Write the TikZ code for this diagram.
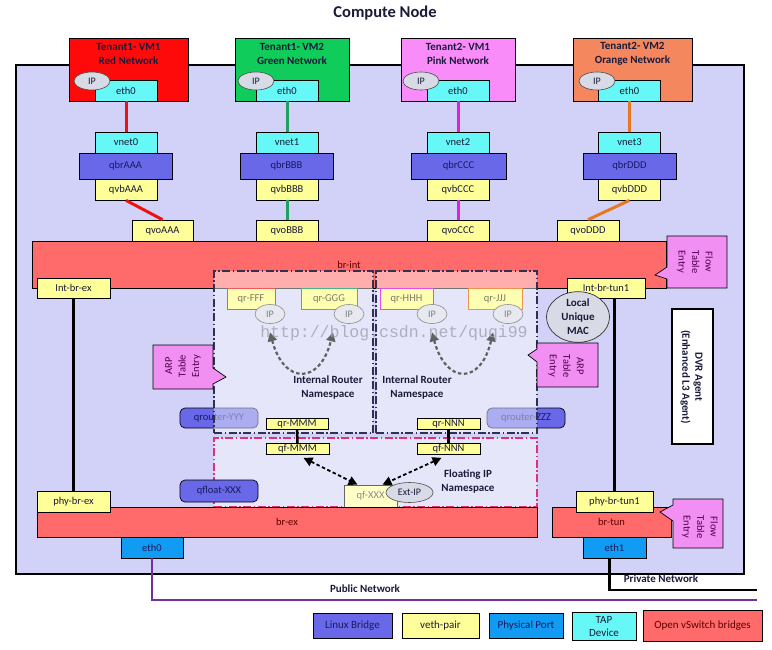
\documentclass[tikz,border=0pt]{standalone}
\usepackage{fontspec}
\setmainfont{Carlito}
\newfontfamily\wmfont{Liberation Mono}
\usetikzlibrary{shapes.geometric,arrows.meta}
\definecolor{lav}{HTML}{D2D2F8}
\definecolor{vmred}{HTML}{FF0A0A}
\definecolor{vmgreen}{HTML}{10CC5A}
\definecolor{vmpink}{HTML}{FA8CFA}
\definecolor{vmorange}{HTML}{F4875E}
\definecolor{tapc}{HTML}{66F7F7}
\definecolor{vethc}{HTML}{FFFF99}
\definecolor{lbc}{HTML}{6868E8}
\definecolor{ovsc}{HTML}{FF6B6B}
\definecolor{physc}{HTML}{119BF2}
\definecolor{callc}{HTML}{F28FF2}
\definecolor{ipc}{HTML}{D8DAE6}
\definecolor{nsb}{HTML}{303050}
\definecolor{fnsb}{HTML}{E0307A}
\definecolor{txt}{HTML}{1A1A3A}
\definecolor{lbtxt}{HTML}{1A1A60}
\definecolor{ovstxt}{HTML}{600000}
\definecolor{calltxt}{HTML}{500050}
\definecolor{lred}{HTML}{EE1111}
\definecolor{lgreen}{HTML}{20A060}
\definecolor{lmag}{HTML}{E020E0}
\definecolor{lorange}{HTML}{E87820}
\definecolor{pubc}{HTML}{7030A0}
\definecolor{fadetxt}{HTML}{7A7A6A}
\definecolor{wmc}{HTML}{A0A0B0}
\begin{document}
\begin{tikzpicture}[x=1pt,y=-1pt,
  base/.style={draw=black, line width=0.7pt, inner sep=0pt, font=\fontsize{10.5}{12}\selectfont, text=txt},
  tapbox/.style={base, fill=tapc, minimum width=62, minimum height=21},
  vethbox/.style={base, fill=vethc, minimum width=62, minimum height=21},
  smallveth/.style={base, fill=vethc, minimum width=62, minimum height=11},
  lbbox/.style={base, fill=lbc, text=lbtxt, minimum width=93, minimum height=26},
  ovsbox/.style={base, fill=ovsc, text=ovstxt},
  physbox/.style={base, fill=physc, text=lbtxt, minimum width=62, minimum height=21},
  ipell/.style={ellipse, draw=black!70, line width=0.6pt, fill=ipc, inner sep=0pt, font=\fontsize{10}{12}\selectfont, text=txt},
  nsip/.style={ellipse, draw=black!45, line width=0.6pt, fill=ipc!60, inner sep=0pt, font=\fontsize{10}{12}\selectfont, text=black!50, minimum width=30, minimum height=19},
  vmbox/.style={draw=black, line width=0.7pt, minimum height=63},
  vmtitle/.style={font=\bfseries\fontsize{11}{13.5}\selectfont, align=center, inner sep=0pt, text=txt},
  boldtxt/.style={font=\bfseries\fontsize{11}{14}\selectfont, align=center, inner sep=0pt, text=txt},
  vmline/.style={line width=3pt},
  qrbox/.style={base, line width=0.9pt, fill=vethc!75!white, text=fadetxt, minimum height=21},
  qrouter/.style={base, fill=lbc, text=lbtxt, rounded corners=5pt, minimum width=78, minimum height=20},
  ns/.style={draw=nsb, line width=1.2pt, dash pattern=on 8pt off 2.5pt on 1.5pt off 2.5pt, fill=white, fill opacity=0.45, inner sep=0pt},
  callout/.style={draw=black, line width=0.7pt, fill=callc},
  calltext/.style={font=\fontsize{10.5}{13.5}\selectfont, align=center, inner sep=0pt, text=calltxt},
  nsarrow/.style={{Triangle[length=9pt,width=9pt]}-{Triangle[length=9pt,width=9pt]}, line width=2.2pt, draw=black!62, dash pattern=on 3.5pt off 2.5pt},
  fparrow/.style={{Triangle[length=9pt,width=9pt]}-{Triangle[length=9pt,width=9pt]}, line width=1.8pt, draw=black, dash pattern=on 3.5pt off 2.5pt},
  legbox/.style={base, font=\fontsize{11}{13}\selectfont, align=center}
]
\useasboundingbox (0,0) rectangle (772,649);
\fill[white] (0,0) rectangle (772,649);

% title
\node[font=\bfseries\fontsize{16.5}{18}\selectfont, text=txt, inner sep=0pt] (title) at (385,13) {Compute Node};

% compute node box
\node[draw=black, line width=2.8pt, fill=lav, minimum width=728, minimum height=509, inner sep=0pt] (cn) at (380,319.5) {};

% VMs
\node[vmbox, fill=vmred, minimum width=119] (vm1) at (128.5,69.5) {};
\node[vmtitle] (vm1t) at (128.5,54) {Tenant1- VM1\\Red Network};
\node[tapbox] (eth01) at (126,90.5) {eth0};
\node[ipell, minimum width=36, minimum height=18] (ip1) at (92,81) {IP};

\node[vmbox, fill=vmgreen, minimum width=114] (vm2) at (292,69.5) {};
\node[vmtitle] (vm2t) at (292,54) {Tenant1- VM2\\Green Network};
\node[tapbox] (eth02) at (287,90.5) {eth0};
\node[ipell, minimum width=36, minimum height=18] (ip2) at (256,81) {IP};

\node[vmbox, fill=vmpink, minimum width=114] (vm3) at (458,69.5) {};
\node[vmtitle] (vm3t) at (458,54) {Tenant2- VM1\\Pink Network};
\node[tapbox] (eth03) at (458,90.5) {eth0};
\node[ipell, minimum width=36, minimum height=18] (ip3) at (421,81) {IP};

\node[vmbox, fill=vmorange, minimum width=119] (vm4) at (632.5,69.5) {};
\node[vmtitle] (vm4t) at (632.5,54) {Tenant2- VM2\\Orange Network};
\node[tapbox] (eth04) at (629.5,90.5) {eth0};
\node[ipell, minimum width=36, minimum height=18] (ip4) at (597,81) {IP};

% tap / bridges / veth
\node[tapbox] (vnet0) at (126,142.5) {vnet0};
\node[lbbox] (qbrA) at (125.5,166) {qbrAAA};
\node[vethbox] (qvbA) at (126,189.5) {qvbAAA};
\node[vethbox, minimum width=61] (qvoA) at (162.5,230.5) {qvoAAA};

\node[tapbox] (vnet1) at (287,142.5) {vnet1};
\node[lbbox] (qbrB) at (286.5,166) {qbrBBB};
\node[vethbox] (qvbB) at (287,189.5) {qvbBBB};
\node[vethbox] (qvoB) at (287,230.5) {qvoBBB};

\node[tapbox] (vnet2) at (458,142.5) {vnet2};
\node[lbbox, minimum width=95] (qbrC) at (458.5,166) {qbrCCC};
\node[vethbox] (qvbC) at (458,189.5) {qvbCCC};
\node[vethbox] (qvoC) at (458,230.5) {qvoCCC};

\node[tapbox] (vnet3) at (629.5,142.5) {vnet3};
\node[lbbox] (qbrD) at (629.5,166) {qbrDDD};
\node[vethbox] (qvbD) at (629.5,189.5) {qvbDDD};
\node[vethbox] (qvoD) at (588,230.5) {qvoDDD};

\draw[vmline, lred] (eth01.south) -- (vnet0.north);
\draw[vmline, lgreen] (eth02.south) -- (vnet1.north);
\draw[vmline, lmag] (eth03.south) -- (vnet2.north);
\draw[vmline, lorange] (eth04.south) -- (vnet3.north);
\draw[vmline, lred] (qvbA.south) -- (qvoA.north);
\draw[vmline, lgreen] (qvbB.south) -- (qvoB.north);
\draw[vmline, lmag] (qvbC.south) -- (qvoC.north);
\draw[vmline, lorange] (qvbD.south) -- (qvoD.north);

% br-int
\node[ovsbox, minimum width=634, minimum height=47] (brint) at (349,264.5) {br-int};
\draw[callout] (667,236) -- (727,236) -- (727,288) -- (667,288) -- (667,279) -- (655,275) -- (667,267) -- cycle;
\node[calltext, rotate=-90] (flow1) at (695,262) {Flow\\Table\\Entry};

% qrouters (under namespaces)
\node[qrouter] (qrY) at (219,418) {qrouter-YYY};
\node[qrouter] (qrZ) at (526,418) {qrouter-ZZZ};

% namespaces
\node[ns, minimum width=159, minimum height=162] (nsL) at (293.5,352) {};
\node[ns, minimum width=161, minimum height=162] (nsR) at (456.5,352) {};
\node[ns, draw=fnsb, minimum width=323, minimum height=69] (nsF) at (375.5,472.5) {};

% internal router ports
\node[qrbox, draw=lred!70, minimum width=48] (qrF) at (251,298.5) {qr-FFF};
\node[qrbox, draw=lgreen!80, minimum width=56] (qrG) at (329,298.5) {qr-GGG};
\node[qrbox, draw=lmag!80, minimum width=53] (qrH) at (406.5,298.5) {qr-HHH};
\node[qrbox, draw=lorange!80, minimum width=54] (qrJ) at (495,298.5) {qr-JJJ};
\node[nsip] (ipF) at (270,314) {IP};
\node[nsip] (ipG) at (349,314) {IP};
\node[nsip] (ipH) at (432,314) {IP};
\node[nsip] (ipJ) at (508,314) {IP};
\draw[nsarrow] ([yshift=-8.5pt]ipF.south) .. controls (284,385) and (320,385) .. ([xshift=-16pt,yshift=-8.5pt]ipG.south);
\draw[nsarrow] ([yshift=-8.5pt]ipH.south) .. controls (446,385) and (481,385) .. ([xshift=-15pt,yshift=-8.5pt]ipJ.south);
\node[boldtxt] (nsLt) at (328,387) {Internal Router\\Namespace};
\node[boldtxt] (nsRt) at (417,387) {Internal Router\\Namespace};

% qr / qf ports
\node[smallveth] (qrM) at (297,423.5) {qr-MMM};
\node[smallveth, minimum width=63] (qrN) at (448.5,423.5) {qr-NNN};
\node[smallveth, minimum width=63] (qfM) at (297.5,449) {qf-MMM};
\node[smallveth, minimum width=63] (qfN) at (448.5,449) {qf-NNN};
\draw[line width=2.5pt] (qrM.south) -- (qfM.north);
\draw[line width=2.5pt] (qrN.south) -- (qfN.north);
\node[boldtxt] (nsFt) at (468,481) {Floating IP\\Namespace};
\node[base, draw=black!60, fill=vethc!55!white, text=black!45, minimum width=53, minimum height=22] (qfX) at (370.5,496) {qf-XXX};
\node[ipell, minimum width=47, minimum height=20] (extip) at (409.5,492.5) {Ext-IP};
\draw[fparrow] ([xshift=6pt,yshift=-3pt]qfM.south) -- ([xshift=-13pt]qfX.north);
\draw[fparrow] ([xshift=-7pt,yshift=-3pt]qfN.south) -- ([xshift=12pt]qfX.north);
\node[qrouter, minimum height=22] (qfl) at (219,491) {qfloat-XXX};

% br-ex side
\node[ovsbox, minimum width=500, minimum height=30] (brex) at (287,522) {br-ex};
\node[vethbox, minimum width=73, minimum height=20] (ibe) at (73.5,288) {Int-br-ex};
\node[vethbox, minimum width=73] (pbe) at (73.5,501.5) {phy-br-ex};
\draw[line width=2.5pt] (ibe.south) -- (pbe.north);
\node[physbox] (peth0) at (152,547.5) {eth0};

% br-tun side
\node[ovsbox, minimum width=119, minimum height=30] (brtun) at (611.5,522) {br-tun};
\node[vethbox, minimum width=78, minimum height=20] (ibt) at (606,288) {Int-br-tun1};
\node[vethbox, minimum width=77] (pbt) at (614.5,501.5) {phy-br-tun1};
\draw[line width=2.5pt] (pbt.north) -- (pbt.north |- ibt.south);
\node[physbox, minimum width=63] (eth1) at (614.5,547.5) {eth1};
\draw[callout] (673,499) -- (723,499) -- (723,548) -- (673,548) -- (673,521) -- (660,512) -- (673,505) -- cycle;
\node[calltext, rotate=-90] (flow2) at (700,527) {Flow\\Table\\Entry};

% networks
\coordinate (pubend) at (757,600);
\coordinate (privend) at (757,590);
\draw[line width=2.6pt, pubc] (peth0.south) |- (pubend);
\draw[line width=2.8pt, black] ([xshift=-5pt]eth1.south) |- (privend);
\node[boldtxt] (pubt) at (365,589) {Public Network};
\node[boldtxt] (privt) at (661,579) {Private Network};

% MAC, ARP, DVR
\node[ellipse, draw=black!80, line width=0.7pt, fill=ipc, minimum width=63, minimum height=47, inner sep=0pt, font=\bfseries\fontsize{11}{14}\selectfont, align=center, text=txt] (mac) at (578,317) {Local\\Unique\\MAC};
\draw[callout] (537,343) -- (598,343) -- (598,387) -- (537,387) -- (537,362) -- (528,355) -- (537,349) -- cycle;
\node[calltext, rotate=-90] (arpR) at (566,366) {ARP\\Table\\Entry};
\draw[callout] (153,345) -- (213,345) -- (213,368) -- (226,377) -- (213,384) -- (213,389) -- (153,389) -- cycle;
\node[calltext, rotate=90] (arpL) at (183,366) {ARP\\Table\\Entry};
\node[draw=black, line width=1.4pt, fill=white, minimum width=41, minimum height=135, inner sep=0pt] (dvr) at (692.5,376.5) {};
\node[boldtxt, font=\bfseries\fontsize{11}{13}\selectfont, rotate=-90] (dvrt) at (691.5,377) {DVR Agent\\(Enhanced L3 Agent)};

% legend
\node[legbox, fill=lbc, text=lbtxt, minimum width=79, minimum height=25] (lg1) at (352.5,625.5) {Linux Bridge};
\node[legbox, fill=vethc, minimum width=77, minimum height=25] (lg2) at (440.5,625.5) {veth-pair};
\node[legbox, fill=physc, text=lbtxt, minimum width=74, minimum height=25] (lg3) at (526,625.5) {Physical Port};
\node[legbox, fill=tapc, minimum width=64, minimum height=28] (lg4) at (604,626) {TAP\\Device};
\node[legbox, fill=ovsc, text=ovstxt, minimum width=119, minimum height=31] (lg5) at (702.5,625.5) {Open vSwitch bridges};

% watermark
\node[font=\wmfont\fontsize{16.5}{18}\selectfont, text=wmc, opacity=0.8, inner sep=0pt] (wm) at (394,333) {http://blog.csdn.net/quqi99};
\end{tikzpicture}
\end{document}
